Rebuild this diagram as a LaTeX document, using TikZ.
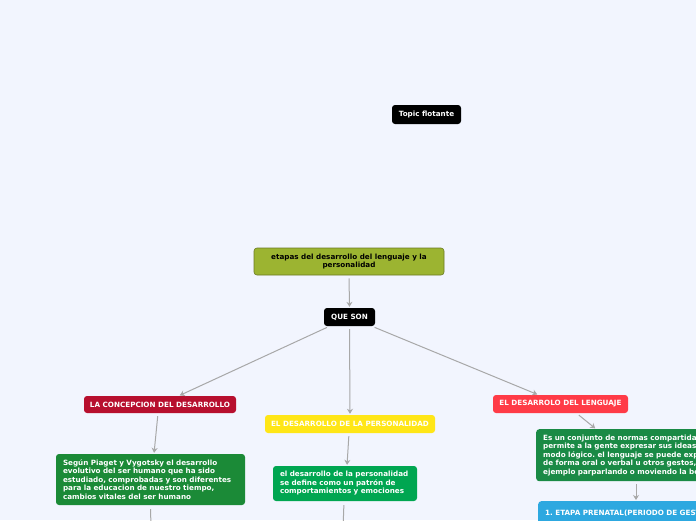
\documentclass[tikz,border=0pt]{standalone}
\usepackage{fontspec}
\setmainfont{DejaVu Sans}
\usetikzlibrary{arrows.meta}
\hyphenpenalty=10000
\exhyphenpenalty=10000
\frenchspacing
\definecolor{bgc}{HTML}{F2F5FE}
\definecolor{olive}{HTML}{9CB431}
\definecolor{oliveb}{HTML}{6B7A22}
\definecolor{crimson}{HTML}{B70F2E}
\definecolor{yel}{HTML}{FFE617}
\definecolor{redl}{HTML}{FF3B47}
\definecolor{gA}{HTML}{1B8A37}
\definecolor{gB}{HTML}{00A651}
\definecolor{gC}{HTML}{1A8A45}
\definecolor{bl}{HTML}{2DA8E0}
\definecolor{arr}{HTML}{A8A8A8}
\tikzset{
  box/.style={rounded corners=3pt, inner sep=0pt, font=\fontsize{7.2}{8.5}\selectfont\bfseries, text=white},
  para/.style={box, align=left, inner xsep=7pt, inner ysep=0pt},
  conn/.style={draw=arr, line width=1pt, -{Stealth[length=5pt,width=6pt]}, shorten <=3pt, shorten >=1pt},
  plain/.style={draw=arr, line width=1pt, shorten <=4pt}
}
\begin{document}
\begin{tikzpicture}[x=1pt,y=-1pt]
\fill[bgc] (0,0) rectangle (696,520);
\useasboundingbox (0,0) rectangle (696,520);
\clip (0,0) rectangle (696,520);

\node[box, fill=black, minimum width=69pt, minimum height=19pt] (topic) at (426.5,114.5) {Topic flotante};
\node[box, fill=olive, draw=oliveb, line width=0.6pt, text=black, minimum width=190pt, minimum height=27pt, align=center] (main) at (349,261.5) {etapas del desarrollo del lenguaje y la\\personalidad};
\node[box, fill=black, minimum width=51pt, minimum height=18pt] (queson) at (349.5,317) {QUE SON};
\node[box, fill=crimson, minimum width=152pt, minimum height=17pt] (concep) at (160,404.5) {LA CONCEPCION DEL DESARROLLO};
\node[box, fill=yel, minimum width=170pt, minimum height=18pt] (person) at (350,424) {EL DESARROLLO DE LA PERSONALIDAD};
\node[box, fill=redl, minimum width=135pt, minimum height=18pt] (leng) at (560.5,404) {EL DESARROLO DEL LENGUAJE};

\node[para, fill=gA, minimum height=51pt, text width=175pt] (g1) at (150.5,479.5) {Según Piaget y Vygotsky el desarrollo\\evolutivo del ser humano que ha sido\\estudiado, comprobadas y son diferentes\\para la educacion de nuestro tiempo,\\cambios vitales del ser humano};
\node[para, fill=gB, minimum height=35pt, text width=130pt] (g2) at (345,483.5) {el desarrollo de la personalidad\\se define como un patrón de\\comportamientos y emociones};
\node[para, fill=gC, anchor=north west, minimum height=52pt, text width=206pt] (g3) at (536,429) {Es un conjunto de normas compartidas que\\permite a la gente expresar sus ideas de un\\modo lógico. el lenguaje se puede expresar\\de forma oral o verbal u otros gestos, por\\ejemplo parparlando o moviendo la boca};
\node[para, fill=bl, anchor=north west, minimum height=25pt, text width=206pt] (blue) at (538,501) {1. ETAPA PRENATAL(PERIODO DE GESTACION)};

\coordinate (g1end) at (151,530);
\coordinate (g2end) at (343,530);

\draw[conn] (main.south) -- (queson.north);
\draw[conn] (queson) -- (concep);
\draw[conn] (queson.south) -- (person.north);
\draw[conn] (queson) -- (leng);
\draw[conn] ([xshift=-2pt]concep.south) -- ([xshift=3.5pt]g1.north);
\draw[conn] ([xshift=-1pt]person.south) -- ([xshift=2pt]g2.north);
\draw[conn] ([xshift=16pt]leng.south) -- ([xshift=60pt]g3.north west);
\draw[conn] ([xshift=100pt]g3.south west) -- ([xshift=98pt]blue.north west);
\draw[plain] (g1.south) -- (g1end);
\draw[plain] ([xshift=-1pt]g2.south) -- (g2end);
\end{tikzpicture}
\end{document}
